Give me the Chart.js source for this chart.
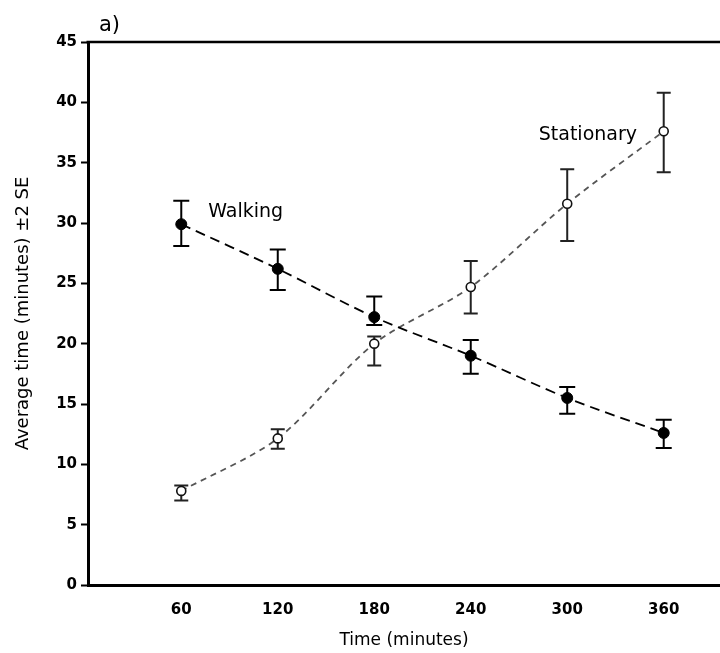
<!DOCTYPE html>
<html>
<head>
<meta charset="utf-8">
<script src="https://cdn.jsdelivr.net/npm/chart.js@4"></script>
<style>
  html, body { margin: 0; padding: 0; background: #fff; }
  #wrap { width: 720px; height: 653px; }
</style>
</head>
<body>
<div id="wrap"><canvas id="c" width="720" height="653"></canvas></div>
<script>
// ---- Data ----
const times = [60, 120, 180, 240, 300, 360];
const xTickLabels = ['60', '120', '180', '240', '300', '360'];
const yTicks = [0, 5, 10, 15, 20, 25, 30, 35, 40, 45];

const walking      = [29.9, 26.2, 22.2, 19.0, 15.5, 12.6];
const walkingUpper = [31.85, 27.8, 23.9, 20.3, 16.4, 13.7];
const walkingLower = [28.1, 24.45, 21.55, 17.5, 14.2, 11.35];

const stationary      = [7.8, 12.15, 20.0, 24.7, 31.6, 37.6];
const stationaryUpper = [8.25, 12.9, 20.6, 26.85, 34.45, 40.8];
const stationaryLower = [7.0, 11.3, 18.2, 22.5, 28.5, 34.2];

const seriesNames = ['Walking', 'Stationary'];
const panelLabel = 'a)';
const xTitle = 'Time (minutes)';
const yTitle = 'Average time (minutes) \u00B12 SE';

// label anchors in data units (x minutes, y value at text baseline)
const labelAnchors = [
  { x: 76.8, y: 30.5 },
  { x: 282.3, y: 36.9 }
];

const errorSets = [
  { upper: walkingUpper, lower: walkingLower, color: '#000', width: 2, cap: 8 },
  { upper: stationaryUpper, lower: stationaryLower, color: '#222', width: 2, cap: 7 }
];

const toXY = arr => arr.map((v, i) => ({ x: times[i], y: v }));

const errorBarPlugin = {
  id: 'errorBars',
  beforeDatasetsDraw(chart) {
    const { ctx, scales: { x, y } } = chart;
    ctx.save();
    errorSets.forEach(set => {
      ctx.strokeStyle = set.color;
      ctx.lineWidth = set.width;
      ctx.setLineDash([]);
      times.forEach((t, i) => {
        const px = x.getPixelForValue(t);
        const pu = y.getPixelForValue(set.upper[i]);
        const pl = y.getPixelForValue(set.lower[i]);
        ctx.beginPath();
        ctx.moveTo(px, pu); ctx.lineTo(px, pl);
        ctx.moveTo(px - set.cap, pu); ctx.lineTo(px + set.cap, pu);
        ctx.moveTo(px - set.cap, pl); ctx.lineTo(px + set.cap, pl);
        ctx.stroke();
      });
    });
    ctx.restore();
  },
  afterDraw(chart) {
    const { ctx, chartArea, scales: { x, y } } = chart;
    ctx.save();
    // top frame line
    ctx.strokeStyle = '#000';
    ctx.lineWidth = 2.5;
    ctx.beginPath();
    ctx.moveTo(chartArea.left - 1.5, chartArea.top);
    ctx.lineTo(chart.width, chartArea.top);
    ctx.stroke();
    // texts
    ctx.fillStyle = '#000';
    ctx.textBaseline = 'alphabetic';
    ctx.textAlign = 'left';
    ctx.font = '21px "DejaVu Sans"';
    ctx.fillText(panelLabel, chartArea.left + 11, chartArea.top - 11);
    ctx.font = '19px "DejaVu Sans"';
    seriesNames.forEach((name, i) => {
      const a = labelAnchors[i];
      ctx.fillText(name, x.getPixelForValue(a.x), y.getPixelForValue(a.y));
    });
    ctx.restore();
  }
};

new Chart(document.getElementById('c'), {
  type: 'line',
  data: {
    datasets: [
      {
        label: seriesNames[0],
        data: toXY(walking),
        borderColor: '#000',
        borderWidth: 1.8,
        borderDash: [10, 6],
        tension: 0.3,
        pointRadius: 5.5,
        pointBackgroundColor: '#000',
        pointBorderColor: '#000',
        pointBorderWidth: 1
      },
      {
        label: seriesNames[1],
        data: toXY(stationary),
        borderColor: '#555',
        borderWidth: 1.8,
        borderDash: [6, 5],
        tension: 0.3,
        pointRadius: 4.5,
        pointBackgroundColor: '#fff',
        pointBorderColor: '#111',
        pointBorderWidth: 1.6
      }
    ]
  },
  options: {
    responsive: false,
    animation: false,
    layout: { autoPadding: false, padding: { top: 42, right: 0, left: 0, bottom: 0 } },
    plugins: { legend: { display: false }, tooltip: { enabled: false } },
    scales: {
      x: {
        type: 'linear',
        min: 2,
        max: 395,
        afterBuildTicks(scale) { scale.ticks = times.map(v => ({ value: v })); },
        afterFit(scale) { scale.height = 68; scale.paddingLeft = 0; scale.paddingRight = 0; },
        ticks: {
          color: '#000',
          font: { family: 'DejaVu Sans', size: 15, weight: 'bold' },
          padding: 16,
          maxRotation: 0,
          callback: (v) => xTickLabels[times.indexOf(v)] ?? ''
        },
        grid: { display: true, drawOnChartArea: false, drawTicks: false },
        border: { color: '#000', width: 3 },
        title: {
          display: true,
          text: xTitle,
          color: '#000',
          font: { family: 'DejaVu Sans', size: 17 },
          padding: { top: 0, bottom: 2 }
        }
      },
      y: {
        min: 0,
        max: 45,
        afterBuildTicks(scale) { scale.ticks = yTicks.map(v => ({ value: v })); },
        afterFit(scale) { scale.width = 88; scale.paddingTop = 0; scale.paddingBottom = 0; },
        ticks: {
          color: '#000',
          font: { family: 'DejaVu Sans', size: 15, weight: 'bold' },
          padding: 4
        },
        grid: {
          drawOnChartArea: false,
          drawTicks: true,
          tickLength: 7,
          tickWidth: 2,
          tickColor: '#000'
        },
        border: { color: '#000', width: 3 },
        title: {
          display: true,
          text: yTitle,
          color: '#000',
          font: { family: 'DejaVu Sans', size: 18 },
          padding: { top: 13, bottom: 0 }
        }
      }
    }
  },
  plugins: [errorBarPlugin]
});
</script>
</body>
</html>
